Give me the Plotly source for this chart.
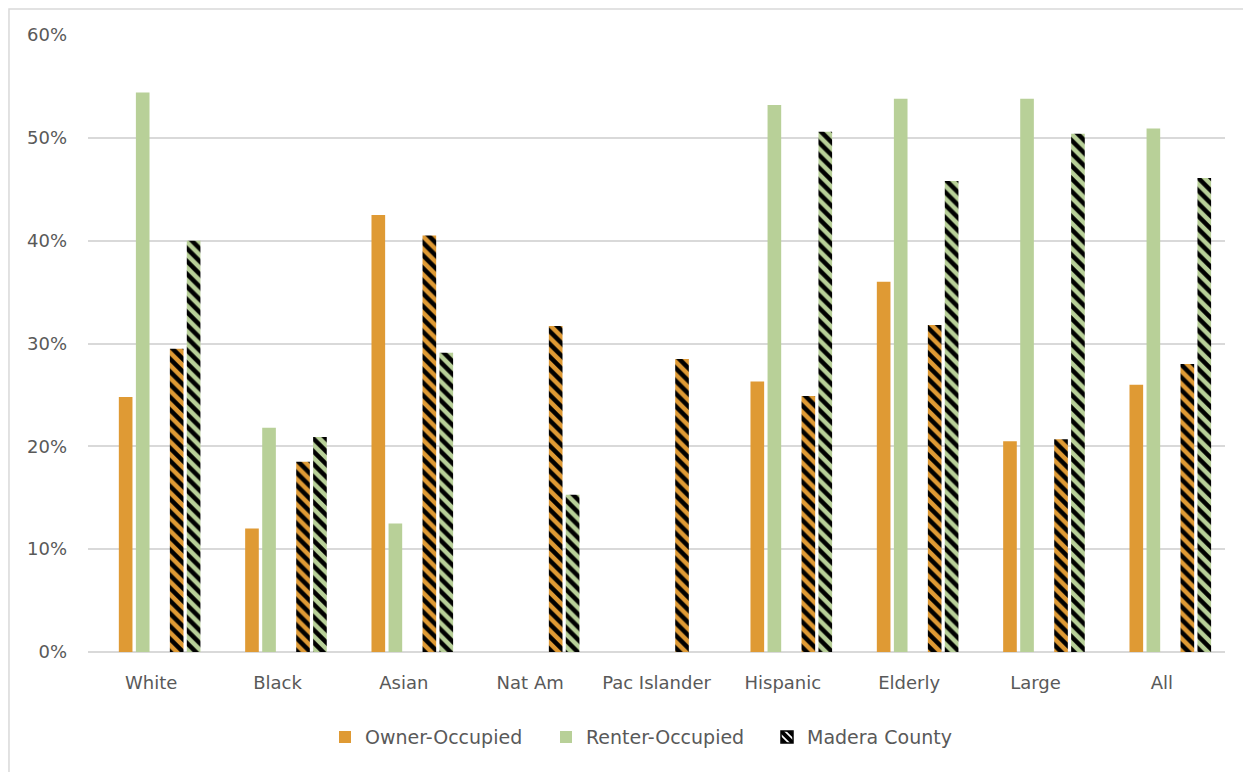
import plotly.graph_objects as go

categories = ["White", "Black", "Asian", "Nat Am", "Pac Islander", "Hispanic", "Elderly", "Large", "All"]
owner = [0.248, 0.120, 0.425, None, None, 0.263, 0.360, 0.205, 0.260]
renter = [0.544, 0.218, 0.125, None, None, 0.532, 0.538, 0.538, 0.509]
madera_owner = [0.295, 0.185, 0.405, 0.317, 0.285, 0.249, 0.318, 0.207, 0.280]
madera_renter = [0.400, 0.209, 0.291, 0.153, None, 0.506, 0.458, 0.504, 0.461]

ORANGE = "#df9a34"
GREEN = "#b8d098"
GRID = "#d9d9d9"
TEXT = "#595959"
FONT = "'DejaVu Sans', Verdana, sans-serif"

W = 0.108  # bar width in category units
fig = go.Figure()
fig.add_trace(go.Bar(x=categories, y=owner, name="Owner-Occupied", marker_color=ORANGE,
                     width=W, offset=-0.202 - W / 2, marker_line_width=0))
fig.add_trace(go.Bar(x=categories, y=renter, name="Renter-Occupied", marker_color=GREEN,
                     width=W, offset=-0.067 - W / 2, marker_line_width=0))
# hatched county bars
hatch = dict(shape="\\", fgcolor="black", size=9, solidity=0.5, fillmode="replace")
fig.add_trace(go.Bar(x=categories, y=madera_owner, name="Madera County (owner)", showlegend=False,
                     marker=dict(color=ORANGE, line_width=0, pattern=dict(hatch, bgcolor=ORANGE)),
                     width=W, offset=0.202 - W / 2))
fig.add_trace(go.Bar(x=categories, y=madera_renter, name="Madera County (renter)", showlegend=False,
                     marker=dict(color=GREEN, line_width=0, pattern=dict(hatch, bgcolor=GREEN)),
                     width=W, offset=0.336 - W / 2))
# legend-only entry for the county
fig.add_trace(go.Bar(x=[categories[0]], y=[None], name="Madera County",
                     marker=dict(color="white", line=dict(color="black", width=1.5),
                                 pattern=dict(shape="\\", fgcolor="black", bgcolor="white", size=7,
                                              solidity=0.7, fillmode="replace"))))

fig.update_yaxes(range=[0, 0.6], dtick=0.1, tickformat=".0%", showgrid=True, gridcolor=GRID, gridwidth=1.5,
                 zeroline=True, zerolinecolor=GRID, zerolinewidth=1.5, showline=False,
                 ticklabelstandoff=20, tickfont=dict(size=18, color=TEXT, family=FONT))
fig.update_xaxes(showline=False, ticks="", ticklabelstandoff=18,
                 tickfont=dict(size=18, color=TEXT, family=FONT))

fig.update_layout(
    width=1251, height=772,
    paper_bgcolor="white", plot_bgcolor="white",
    margin=dict(l=80, r=34, t=27, b=128),
    barmode="overlay",
    legend=dict(orientation="h", x=0.5, xanchor="center", y=-0.138, yanchor="middle",
                font=dict(size=19, color=TEXT, family=FONT), itemwidth=30, traceorder="normal",
                entrywidth=176, entrywidthmode="pixels"),
    shapes=[dict(type="rect", xref="paper", yref="paper", x0=-0.0695, x1=2, y0=-1, y1=1.0421,
                 line=dict(color=GRID, width=1.5), fillcolor="rgba(0,0,0,0)", layer="below")],
)
fig.write_html("out.html")
